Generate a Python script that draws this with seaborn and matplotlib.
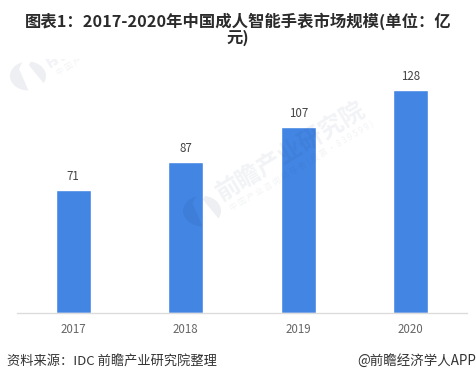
import matplotlib
matplotlib.use("Agg")
import matplotlib.pyplot as plt
from matplotlib.patches import Circle, Polygon, Rectangle
import pandas as pd
import seaborn as sns

years = ["2017", "2018", "2019", "2020"]
values = [71, 87, 107, 128]

title = "图表1：2017-2020年中国成人智能手表市场规模(单位：亿\n元)"
source = "资料来源：IDC 前瞻产业研究院整理"
credit = "@前瞻经济学人APP"
wm_main = "前瞻产业研究院"
wm_sub = "中 国 产 业 咨 询 领 导 者 ( 股 票 · 8 3 9 5 9 9 )"

W, H = 476, 382
WM_COLOR = "#1f3560"

sns.set_theme(style="white")
plt.rcParams["font.family"] = ["Noto Sans CJK SC", "DejaVu Sans"]

df = pd.DataFrame({"year": years, "value": values})

fig = plt.figure(figsize=(W / 100, H / 100), dpi=100, facecolor="white")
ax = fig.add_axes([17 / W, (H - 313) / H, 450 / W, 253 / H])

sns.barplot(data=df, x="year", y="value", color="#4285e3", saturation=1, width=0.312, ax=ax)
ax.set_xlim(-0.5, 3.5)
ax.set_ylim(0, 145.5)
ax.set_xlabel("")
ax.set_ylabel("")
ax.set_yticks([])
ax.tick_params(axis="x", length=0, pad=7, labelsize=8.3, labelcolor="#666666")
for name in ["top", "left", "right"]:
    ax.spines[name].set_visible(False)
ax.spines["bottom"].set_color("#dcdcdc")
ax.spines["bottom"].set_linewidth(1)

ax.bar_label(ax.containers[0], padding=5, fontsize=8.3, color="#444444")


def px(x, y):
    return x / W, 1 - y / H


def logo(x, y, r):
    # circle split by a slanted gap, both parts clipped to the circle
    circle = Circle(px(x, y), r / W, transform=fig.transFigure)
    left = [(-1.2, -1.2), (-0.1, -1.2), (-0.5, -0.4), (0.2, 1.2), (-1.2, 1.2)]
    right = [(0.05, -0.6), (0.35, -1.2), (1.2, -1.2), (1.2, 0.5), (0.95, 0.5)]
    for part in (left, right):
        pts = [px(x + a * r, y + b * r) for a, b in part]
        poly = Polygon(pts, transform=fig.transFigure, fc=WM_COLOR, ec="none", alpha=0.08, zorder=5)
        fig.add_artist(poly)
        poly.set_clip_path(circle)


def wm_text(x, y, s, size, alpha, weight="normal", clip=None):
    t = fig.text(*px(x, y), s, fontsize=size, color=WM_COLOR, alpha=alpha, rotation=31,
                 rotation_mode="anchor", ha="left", va="center", fontweight=weight, zorder=5)
    if clip is not None:
        t.set_clip_path(clip)
    return t


logo(202, 211, 19)
wm_text(218, 195, wm_main, 17.5, 0.06, "bold")
wm_text(231, 209, wm_sub, 5.9, 0.06)

# second watermark, cut off just under the title
top_clip = Rectangle(px(0, 130), 160 / W, 71 / H, transform=fig.transFigure)
logo(28, 76, 18)
wm_text(44, 61, wm_main[0], 17.5, 0.06, "bold", clip=top_clip)
wm_text(57, 74, wm_sub[:5], 5.9, 0.06, clip=top_clip)

fig.text(0.5, 1 - 29 / H, title, ha="center", va="center", fontsize=11.75, fontweight="bold",
         color="#2b2b2b", linespacing=0.95)
fig.text(7 / W, 1 - 361 / H, source, ha="left", va="center", fontsize=9.5, color="#333333")
fig.text(1, 1 - 361 / H, credit, ha="right", va="center", fontsize=9.7, color="#333333")

fig.savefig("out.png", dpi=100)
